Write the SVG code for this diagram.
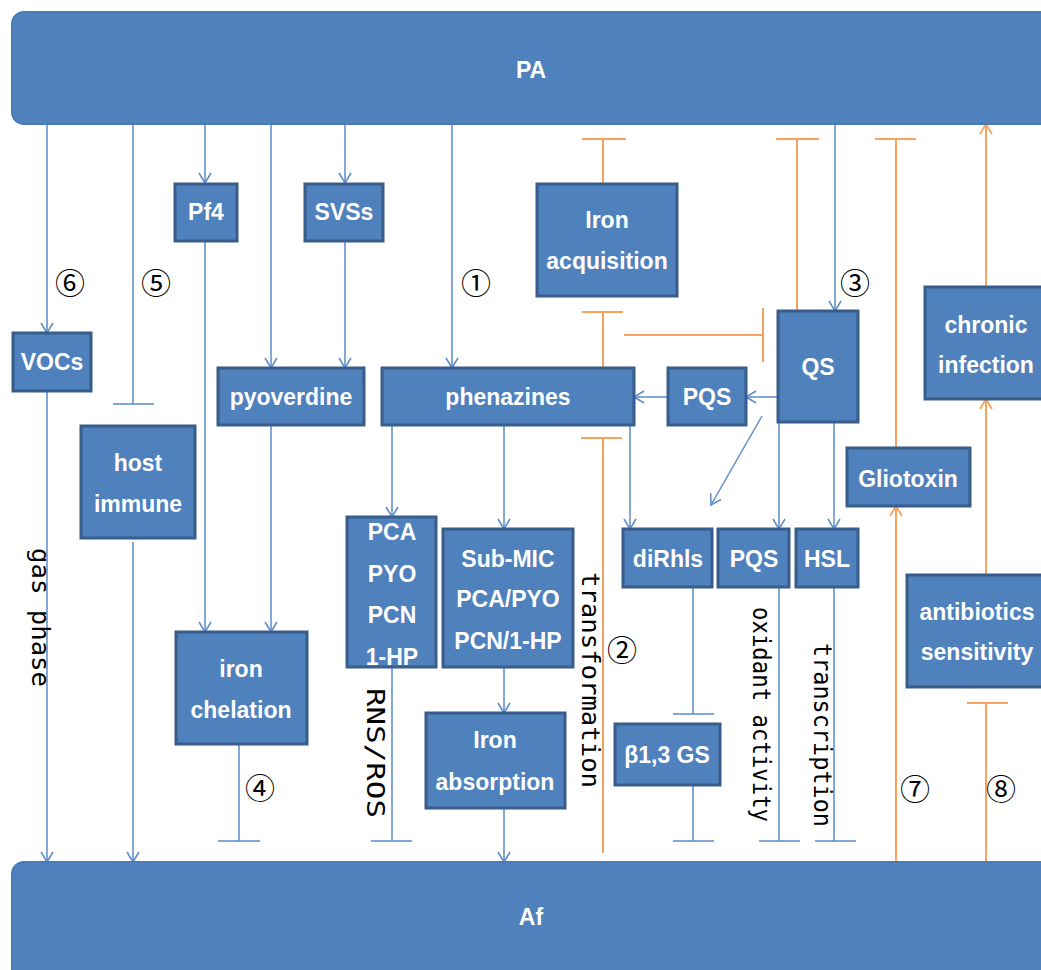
<svg xmlns="http://www.w3.org/2000/svg" width="1041" height="970" viewBox="0 0 1041 970">
<style>
.bar{fill:#4f81bd;stroke:#4a7aba;stroke-width:2}
.nd{fill:#4f81bd;stroke:#385d8a;stroke-width:3}
.lb{fill:#fff;font-family:"Liberation Sans",Arial,sans-serif;font-weight:bold;font-size:23px;text-anchor:middle}
.bl{fill:none;stroke:#5b8bc9;stroke-width:1.5}
.or{fill:none;stroke:#f9a25e;stroke-width:2}
.vt{fill:#000;font-family:"DejaVu Sans Mono","Liberation Mono",monospace;font-size:24px}
.num{fill:#000;font-family:"Noto Sans CJK JP","DejaVu Sans",sans-serif;font-size:30px;text-anchor:middle}
</style>
<defs>
<marker id="ab" markerUnits="userSpaceOnUse" markerWidth="14" markerHeight="14" viewBox="-12 -7 14 14" refX="0" refY="0" orient="auto"><path d="M-10,-6 L0,0 L-10,6" fill="none" stroke="#5b8bc9" stroke-width="1.5"/></marker>
<marker id="ao" markerUnits="userSpaceOnUse" markerWidth="14" markerHeight="14" viewBox="-12 -7 14 14" refX="0" refY="0" orient="auto"><path d="M-10,-6 L0,0 L-10,6" fill="none" stroke="#f9a25e" stroke-width="1.8"/></marker>
</defs>
<rect width="1041" height="970" fill="#fff"/>
<g id="connectors">
<g class="bl">
<path d="M47,124 V333" marker-end="url(#ab)"/>
<path d="M47,391 V862" marker-end="url(#ab)"/>
<path d="M133,124 V404 M113,404 H154"/>
<path d="M133,542 V862" marker-end="url(#ab)"/>
<path d="M205,124 V183" marker-end="url(#ab)"/>
<path d="M205,242 V632" marker-end="url(#ab)"/>
<path d="M271,124 V368" marker-end="url(#ab)"/>
<path d="M271,425 V632" marker-end="url(#ab)"/>
<path d="M345,124 V183" marker-end="url(#ab)"/>
<path d="M345,242 V368" marker-end="url(#ab)"/>
<path d="M239,744 V841 M218,841 H260"/>
<path d="M452,124 V368" marker-end="url(#ab)"/>
<path d="M392,425 V517" marker-end="url(#ab)"/>
<path d="M504,425 V529" marker-end="url(#ab)"/>
<path d="M630,425 V529" marker-end="url(#ab)"/>
<path d="M392,667 V841 M371,841 H412"/>
<path d="M504,667 V713" marker-end="url(#ab)"/>
<path d="M504,808 V862" marker-end="url(#ab)"/>
<path d="M835,124 V311" marker-end="url(#ab)"/>
<path d="M778,397 H746" marker-end="url(#ab)"/>
<path d="M668,397 H634" marker-end="url(#ab)"/>
<path d="M762,416 L711,505" marker-end="url(#ab)"/>
<path d="M779,422 V529" marker-end="url(#ab)"/>
<path d="M834,422 V529" marker-end="url(#ab)"/>
<path d="M779,587 V841 M759,841 H800"/>
<path d="M834,587 V841 M815,841 H856"/>
<path d="M693,587 V714 M673,714 H714"/>
<path d="M693,785 V841 M673,841 H714"/>
</g>
<g class="or">
<path d="M603,139 V183 M582,139 H626"/>
<path d="M603,312 V368 M582,312 H623"/>
<path d="M624,335 H763 M763,308 V362"/>
<path d="M797,311 V139 M776,139 H819"/>
<path d="M896,448 V139 M875,139 H916"/>
<path d="M986,287 V124" marker-end="url(#ao)"/>
<path d="M986,575 V399" marker-end="url(#ao)"/>
<path d="M896,862 V506" marker-end="url(#ao)"/>
<path d="M986,703 V862 M967,703 H1008"/>
<path d="M603,853 V438 M581,438 H622"/>
</g>
</g>
<g id="PA"><rect class="bar" x="12" y="12" width="1050" height="112" rx="12"/><text class="lb" x="531" y="78">PA</text></g>
<g id="Af"><rect class="bar" x="12" y="862" width="1050" height="130" rx="12"/><text class="lb" x="531" y="925">Af</text></g>
<g id="Pf4"><rect class="nd" x="175" y="184" width="62" height="57"/><text class="lb" x="206" y="220">Pf4</text></g>
<g id="SVSs"><rect class="nd" x="305" y="184" width="78" height="57"/><text class="lb" x="344" y="220">SVSs</text></g>
<g id="VOCs"><rect class="nd" x="13" y="333" width="78" height="58"/><text class="lb" x="52" y="370">VOCs</text></g>
<g id="pyoverdine"><rect class="nd" x="218" y="368" width="146" height="57"/><text class="lb" x="291" y="405">pyoverdine</text></g>
<g id="host-immune"><rect class="nd" x="81" y="426" width="114" height="112"/><text class="lb" x="138" y="471">host</text><text class="lb" x="138" y="512">immune</text></g>
<g id="phenazines"><rect class="nd" x="382" y="368" width="252" height="57"/><text class="lb" x="508" y="405">phenazines</text></g>
<g id="iron-acquisition"><rect class="nd" x="537" y="184" width="140" height="112"/><text class="lb" x="607" y="228">Iron</text><text class="lb" x="607" y="269">acquisition</text></g>
<g id="PQS-top"><rect class="nd" x="668" y="368" width="78" height="57"/><text class="lb" x="707" y="405">PQS</text></g>
<g id="QS"><rect class="nd" x="778" y="311" width="80" height="111"/><text class="lb" x="818" y="375">QS</text></g>
<g id="chronic-infection"><rect class="nd" x="925" y="287" width="130" height="112"/><text class="lb" x="986" y="333">chronic</text><text class="lb" x="986" y="373">infection</text></g>
<g id="Gliotoxin"><rect class="nd" x="847" y="448" width="123" height="58"/><text class="lb" x="908" y="487">Gliotoxin</text></g>
<g id="antibiotics-sensitivity"><rect class="nd" x="907" y="575" width="150" height="112"/><text class="lb" x="977" y="620">antibiotics</text><text class="lb" x="977" y="660">sensitivity</text></g>
<g id="PCA"><rect class="nd" x="347" y="517" width="89" height="150"/><text class="lb" x="392" y="540">PCA</text><text class="lb" x="392" y="582">PYO</text><text class="lb" x="392" y="623">PCN</text><text class="lb" x="392" y="665">1-HP</text></g>
<g id="sub-MIC"><rect class="nd" x="443" y="529" width="130" height="138"/><text class="lb" x="508" y="567">Sub-MIC</text><text class="lb" x="508" y="607">PCA/PYO</text><text class="lb" x="508" y="649">PCN/1-HP</text></g>
<g id="iron-absorption"><rect class="nd" x="426" y="713" width="139" height="95"/><text class="lb" x="495" y="748">Iron</text><text class="lb" x="495" y="790">absorption</text></g>
<g id="diRhls"><rect class="nd" x="623" y="529" width="89" height="58"/><text class="lb" x="668" y="567">diRhls</text></g>
<g id="PQS-low"><rect class="nd" x="718" y="529" width="71" height="58"/><text class="lb" x="754" y="567">PQS</text></g>
<g id="HSL"><rect class="nd" x="796" y="529" width="62" height="58"/><text class="lb" x="827" y="567">HSL</text></g>
<g id="b13GS"><rect class="nd" x="615" y="724" width="105" height="61"/><text class="lb" x="667" y="763">β1,3 GS</text></g>
<g id="iron-chelation"><rect class="nd" x="176" y="632" width="131" height="112"/><text class="lb" x="241" y="677">iron</text><text class="lb" x="241" y="718">chelation</text></g>
<g id="labels">
<text class="vt" transform="translate(32,548) rotate(90)" textLength="139" lengthAdjust="spacingAndGlyphs">gas phase</text>
<text class="vt" transform="translate(367,688) rotate(90)" textLength="130" lengthAdjust="spacingAndGlyphs">RNS/ROS</text>
<text class="vt" transform="translate(582,572) rotate(90)" textLength="216" lengthAdjust="spacingAndGlyphs">transformation</text>
<text class="vt" transform="translate(753,607) rotate(90)" textLength="215" lengthAdjust="spacingAndGlyphs">oxidant activity</text>
<text class="vt" transform="translate(814,643) rotate(90)" textLength="184" lengthAdjust="spacingAndGlyphs">transcription</text>
<text class="num" x="70" y="294">⑥</text>
<text class="num" x="156" y="294">⑤</text>
<text class="num" x="476" y="294">①</text>
<text class="num" x="855" y="294">③</text>
<text class="num" x="260" y="799">④</text>
<text class="num" x="622" y="661">②</text>
<text class="num" x="915" y="800">⑦</text>
<text class="num" x="1001" y="800">⑧</text>
</g>
</svg>
